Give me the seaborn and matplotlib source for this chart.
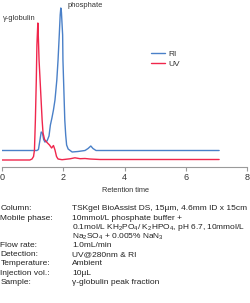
import matplotlib
matplotlib.use("Agg")
import matplotlib.pyplot as plt
from matplotlib import font_manager
import seaborn as sns
import pandas as pd

# ---- data (time in min, signal in arbitrary units) ----
ri_time = [0.00, 1.14, 1.19, 1.24, 1.28, 1.32, 1.36, 1.40, 1.47, 1.535, 1.58, 1.63,
           1.68, 1.73, 1.79, 1.83, 1.87, 1.90, 1.92, 1.94, 1.98, 1.99, 2.01, 2.03,
           2.05, 2.08, 2.11, 2.16, 2.29, 2.48, 2.71, 2.81, 2.90, 2.97, 3.07, 7.09]
ri_signal = [16.5, 16.5, 17.5, 27, 35, 34, 27.5, 25, 26, 31, 42, 49,
             57, 67, 87, 107, 132, 152, 159, 155, 132, 107, 87, 67,
             47, 32, 22, 18, 15, 15.5, 16.5, 18.5, 21, 18.5, 16.5, 16.5]

uv_time = [0.00, 0.91, 0.98, 1.03, 1.06, 1.09, 1.12, 1.14, 1.17, 1.19, 1.21, 1.26,
           1.31, 1.34, 1.39, 1.47, 1.55, 1.62, 1.68, 1.73, 1.78, 1.83, 1.96, 2.22,
           2.38, 2.55, 2.71, 2.87, 3.20, 7.09]
uv_signal = [7, 7, 8, 10.5, 17, 47, 87, 122, 144, 127, 107, 77,
             47, 34, 27.5, 24.5, 22, 19, 21.5, 17, 10.5, 8, 7.3, 8.2,
             9.2, 8.3, 8.5, 8, 7.5, 7.5]

series_names = ["RI", "UV"]
series_colors = ["#4a80c8", "#f0264c"]
x_ticks = [0, 2, 4, 6, 8]
x_label = "Retention time"
peak_labels = ["\u03b3-globulin", "phosphate"]

cond_labels = ["Column:", "Mobile phase:", "", "", "Flow rate:", "Detection:",
               "Temperature:", "Injection vol.:", "Sample:"]
cond_values = ["TSKgel BioAssist DS, 15\u00b5m, 4.6mm ID x 15cm",
               "10mmol/L phosphate buffer +",
               "0.1mol/L KH$_2$PO$_4$/ K$_2$HPO$_4$, pH 6.7, 10mmol/L",
               "Na$_2$SO$_4$ + 0.005% NaN$_3$",
               "1.0mL/min",
               "UV@280nm & RI",
               "Ambient",
               "10\u00b5L",
               "\u03b3-globulin peak fraction"]

# ---- fonts ----
sns.set_style("white")
names = {f.name for f in font_manager.fontManager.ttflist}
if "Liberation Sans Narrow" in names:
    main_font = "Liberation Sans Narrow"
    cond_size = 6.6
else:
    main_font = "Liberation Sans"
    cond_size = 6.0
plt.rcParams["font.family"] = [main_font, "DejaVu Sans"]
plt.rcParams["mathtext.default"] = "regular"

df = pd.concat([
    pd.DataFrame({"time": ri_time, "signal": ri_signal, "detector": series_names[0]}),
    pd.DataFrame({"time": uv_time, "signal": uv_signal, "detector": series_names[1]}),
], ignore_index=True)

W, H = 250, 303
fig = plt.figure(figsize=(W / 100, H / 100), dpi=100)
ax = fig.add_axes([2 / W, (H - 167) / H, 245 / W, 165 / H])

sns.lineplot(data=df, x="time", y="signal", hue="detector",
             hue_order=series_names, palette=dict(zip(series_names, series_colors)),
             estimator=None, sort=False, linewidth=1.0, ax=ax)

ax.set_xlim(0, 8)
ax.set_ylim(0, 165)
ax.set_xticks(x_ticks)
ax.set_xticklabels([str(t) for t in x_ticks])
ax.set_yticks([])
ax.set_xlabel("")
ax.set_ylabel("")
for s in ["left", "right", "top"]:
    ax.spines[s].set_visible(False)
ax.spines["bottom"].set_color("#9a9a9a")
ax.spines["bottom"].set_linewidth(0.8)
ax.tick_params(axis="x", direction="out", length=3, width=0.8, color="#9a9a9a",
               labelsize=6.5, labelcolor="#333333", pad=1.5, bottom=True)
ax.set_facecolor("none")

leg = ax.legend(loc="upper left", bbox_to_anchor=(150.5 / W, (H - 50) / H),
                bbox_transform=fig.transFigure, frameon=False, fontsize=6.0,
                handlelength=1.75, handletextpad=0.35, labelspacing=0.25,
                borderpad=0, borderaxespad=0)
for t in leg.get_texts():
    t.set_color("#333333")

def px(x, y):
    return x / W, 1 - y / H

fig.text(*px(125, 191), x_label, fontsize=5.3, color="#333333", ha="center", va="center")
fig.text(*px(2.5, 18), peak_labels[0], fontsize=5.4, color="#333333", ha="left", va="center")
fig.text(*px(68, 5.5), peak_labels[1], fontsize=5.4, color="#333333", ha="left", va="center")

row_y0, row_dy = 209, 9.15
for i, (lab, val) in enumerate(zip(cond_labels, cond_values)):
    y = row_y0 + i * row_dy
    if lab:
        fig.text(*px(0.5, y), lab, fontsize=cond_size, color="#222222", ha="left", va="center")
    fig.text(*px(72, y), val, fontsize=cond_size, color="#222222", ha="left", va="center")

fig.savefig("out.png", dpi=100)
